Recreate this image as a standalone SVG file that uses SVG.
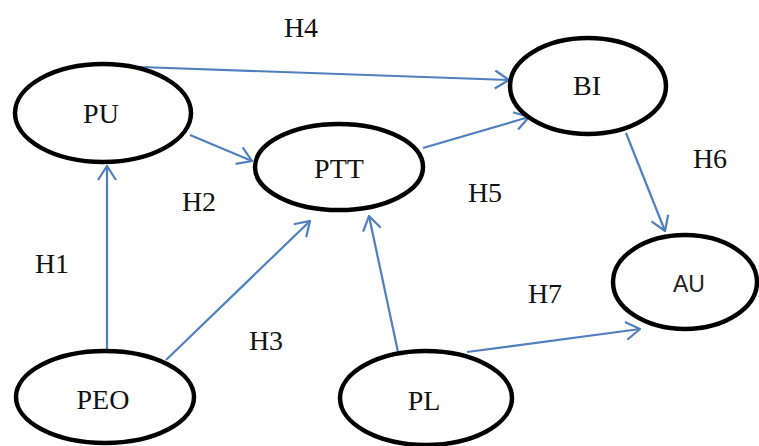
<svg xmlns="http://www.w3.org/2000/svg" width="759" height="446" viewBox="0 0 759 446">
<defs>
<marker id="arr" viewBox="0 0 16 20" refX="15" refY="10" markerWidth="16" markerHeight="20" markerUnits="userSpaceOnUse" orient="auto">
<path d="M1,1 L15,10 L1,19" fill="none" stroke="#4f7fbf" stroke-width="2.2"/>
</marker>
<style>
.node ellipse{fill:#fff;stroke:#000;stroke-width:4.5}
.t{font-family:'Liberation Serif','Times New Roman','DejaVu Serif',serif;font-size:28px;fill:#111;text-anchor:middle}
#edges line{stroke:#4f7fbf;stroke-width:2.2;marker-end:url(#arr)}
</style>
</defs>
<rect width="759" height="446" fill="#fff"/>
<g id="edges">
<line x1="140" y1="67" x2="509" y2="80"/>
<line x1="190" y1="135" x2="252" y2="161"/>
<line x1="423" y1="148" x2="529" y2="117"/>
<line x1="626" y1="133" x2="665" y2="231"/>
<line x1="107" y1="351" x2="107" y2="166"/>
<line x1="166" y1="360" x2="310" y2="221"/>
<line x1="398" y1="352" x2="369" y2="216"/>
<line x1="467" y1="352" x2="640" y2="329"/>
</g>
<g id="PU" class="node"><ellipse cx="103" cy="113" rx="88" ry="49"/><text class="t" x="101" y="123">PU</text></g>
<g id="PTT" class="node"><ellipse cx="339" cy="167" rx="84" ry="43"/><text class="t" x="339" y="178">PTT</text></g>
<g id="BI" class="node"><ellipse cx="588" cy="86" rx="78" ry="48"/><text class="t" x="587" y="95">BI</text></g>
<g id="AU" class="node"><ellipse cx="685" cy="282" rx="72" ry="47"/><text x="689" y="292" font-family="Liberation Sans, Arial, sans-serif" font-size="23" fill="#222" text-anchor="middle">AU</text></g>
<g id="PEO" class="node"><ellipse cx="105" cy="397" rx="89" ry="46"/><text class="t" x="103" y="409">PEO</text></g>
<g id="PL" class="node"><ellipse cx="426" cy="398" rx="86" ry="47"/><text class="t" x="424" y="410">PL</text></g>
<g id="labels">
<text class="t" x="301" y="37">H4</text>
<text class="t" x="199" y="211">H2</text>
<text class="t" x="485" y="202">H5</text>
<text class="t" x="710" y="168">H6</text>
<text class="t" x="52" y="273">H1</text>
<text class="t" x="266" y="350">H3</text>
<text class="t" x="545" y="303">H7</text>
</g>
</svg>
